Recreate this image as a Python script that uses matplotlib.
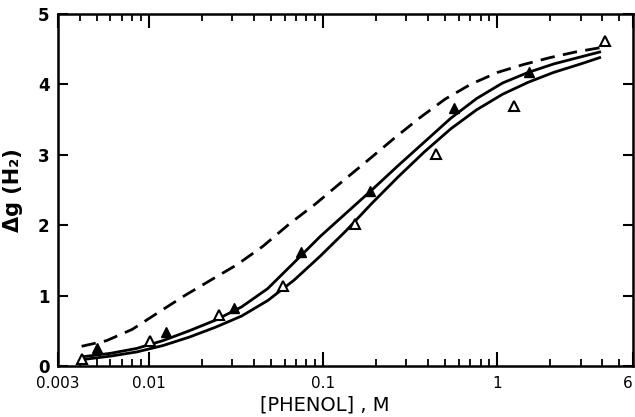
import numpy as np
import matplotlib
matplotlib.use('Agg')
import matplotlib.pyplot as plt
from matplotlib.ticker import LogLocator, FixedLocator, FixedFormatter, NullFormatter

plt.rcParams['font.family'] = ['DejaVu Sans']
plt.rcParams['axes.linewidth'] = 1.8

# data: [phenol] (M) vs delta g (H2)
open_x = [0.0041, 0.0101, 0.0251, 0.059, 0.152, 0.443, 1.25, 4.14]
open_y = [0.10, 0.35, 0.72, 1.13, 2.01, 3.01, 3.70, 4.61]

filled_x = [0.00505, 0.0125, 0.0306, 0.0748, 0.186, 0.561, 1.52]
filled_y = [0.26, 0.48, 0.83, 1.62, 2.48, 3.67, 4.18]

# solid curve through the filled triangles
upper_x = [0.0041, 0.006, 0.0085, 0.012, 0.017, 0.024, 0.034, 0.048, 0.068,
           0.096, 0.135, 0.19, 0.27, 0.38, 0.54, 0.76, 1.07, 1.5, 2.1, 3.0, 3.86]
upper_y = [0.13, 0.18, 0.25, 0.36, 0.50, 0.65, 0.84, 1.10, 1.47,
           1.84, 2.17, 2.50, 2.85, 3.18, 3.52, 3.80, 4.02, 4.17, 4.29, 4.39, 4.46]

# solid curve through the open triangles
lower_x = [0.0041, 0.006, 0.0085, 0.012, 0.017, 0.024, 0.034, 0.048, 0.068,
           0.096, 0.135, 0.19, 0.27, 0.38, 0.54, 0.76, 1.07, 1.5, 2.1, 3.0, 3.86]
lower_y = [0.09, 0.14, 0.20, 0.29, 0.41, 0.55, 0.71, 0.93, 1.22,
           1.56, 1.92, 2.31, 2.69, 3.04, 3.37, 3.64, 3.86, 4.03, 4.17, 4.29, 4.38]

# dashed curve
dash_x = [0.0041, 0.0057, 0.008, 0.0113, 0.016, 0.0226, 0.032, 0.045, 0.064,
          0.09, 0.127, 0.18, 0.254, 0.36, 0.5, 0.7, 1.0, 1.4, 2.0, 2.8, 3.86]
dash_y = [0.28, 0.36, 0.52, 0.76, 1.00, 1.22, 1.44, 1.70, 2.02,
          2.30, 2.61, 2.92, 3.23, 3.53, 3.79, 4.00, 4.17, 4.28, 4.38, 4.46, 4.52]

xtick_pos = [0.003, 0.01, 0.1, 1, 6]
xtick_lab = ['0.003', '0.01', '0.1', '1', '6']

fig = plt.figure(figsize=(6.35, 4.17), dpi=100)
ax = fig.add_axes([58/635, 1-366/417, 575/635, 352/417])

ax.plot(upper_x, upper_y, color='black', lw=2.0)
ax.plot(lower_x, lower_y, color='black', lw=2.0)
ax.plot(dash_x, dash_y, color='black', lw=2.0, linestyle=(0, (5.2, 3.0)))
ax.plot(open_x, open_y, linestyle='none', marker='^', ms=7, mfc='white',
        mec='black', mew=1.5)
ax.plot(filled_x, filled_y, linestyle='none', marker='^', ms=7, mfc='black',
        mec='black', mew=1.0)

ax.set_xscale('log')
ax.set_xlim(0.003, 6)
ax.set_ylim(0, 5)

ax.xaxis.set_major_locator(FixedLocator(xtick_pos))
ax.xaxis.set_major_formatter(FixedFormatter(xtick_lab))
ax.xaxis.set_minor_locator(LogLocator(base=10, subs=np.arange(2, 10)))
ax.xaxis.set_minor_formatter(NullFormatter())
ax.set_yticks([0, 1, 2, 3, 4, 5])

ax.tick_params(axis='both', which='both', direction='in', top=True, right=True)
ax.tick_params(axis='x', which='major', length=10, width=1.5, pad=7, labelsize=11)
ax.tick_params(axis='x', which='minor', length=5, width=1.3)
ax.tick_params(axis='y', which='major', length=7, width=1.5, pad=6, labelsize=12)
for lab in ax.get_yticklabels():
    lab.set_fontweight('bold')
ax.get_xticklabels()[0].set_x(0.0032)
ax.get_xticklabels()[-1].set_ha('right')

ax.set_xlabel('[PHENOL] , M', fontsize=14)
ax.xaxis.set_label_coords(0.464, -0.085)
ax.set_ylabel('Δg (H₂)', fontsize=15, fontweight='bold')
ax.yaxis.set_label_coords(-0.06, 0.5)

plt.savefig('out.png', dpi=100)
